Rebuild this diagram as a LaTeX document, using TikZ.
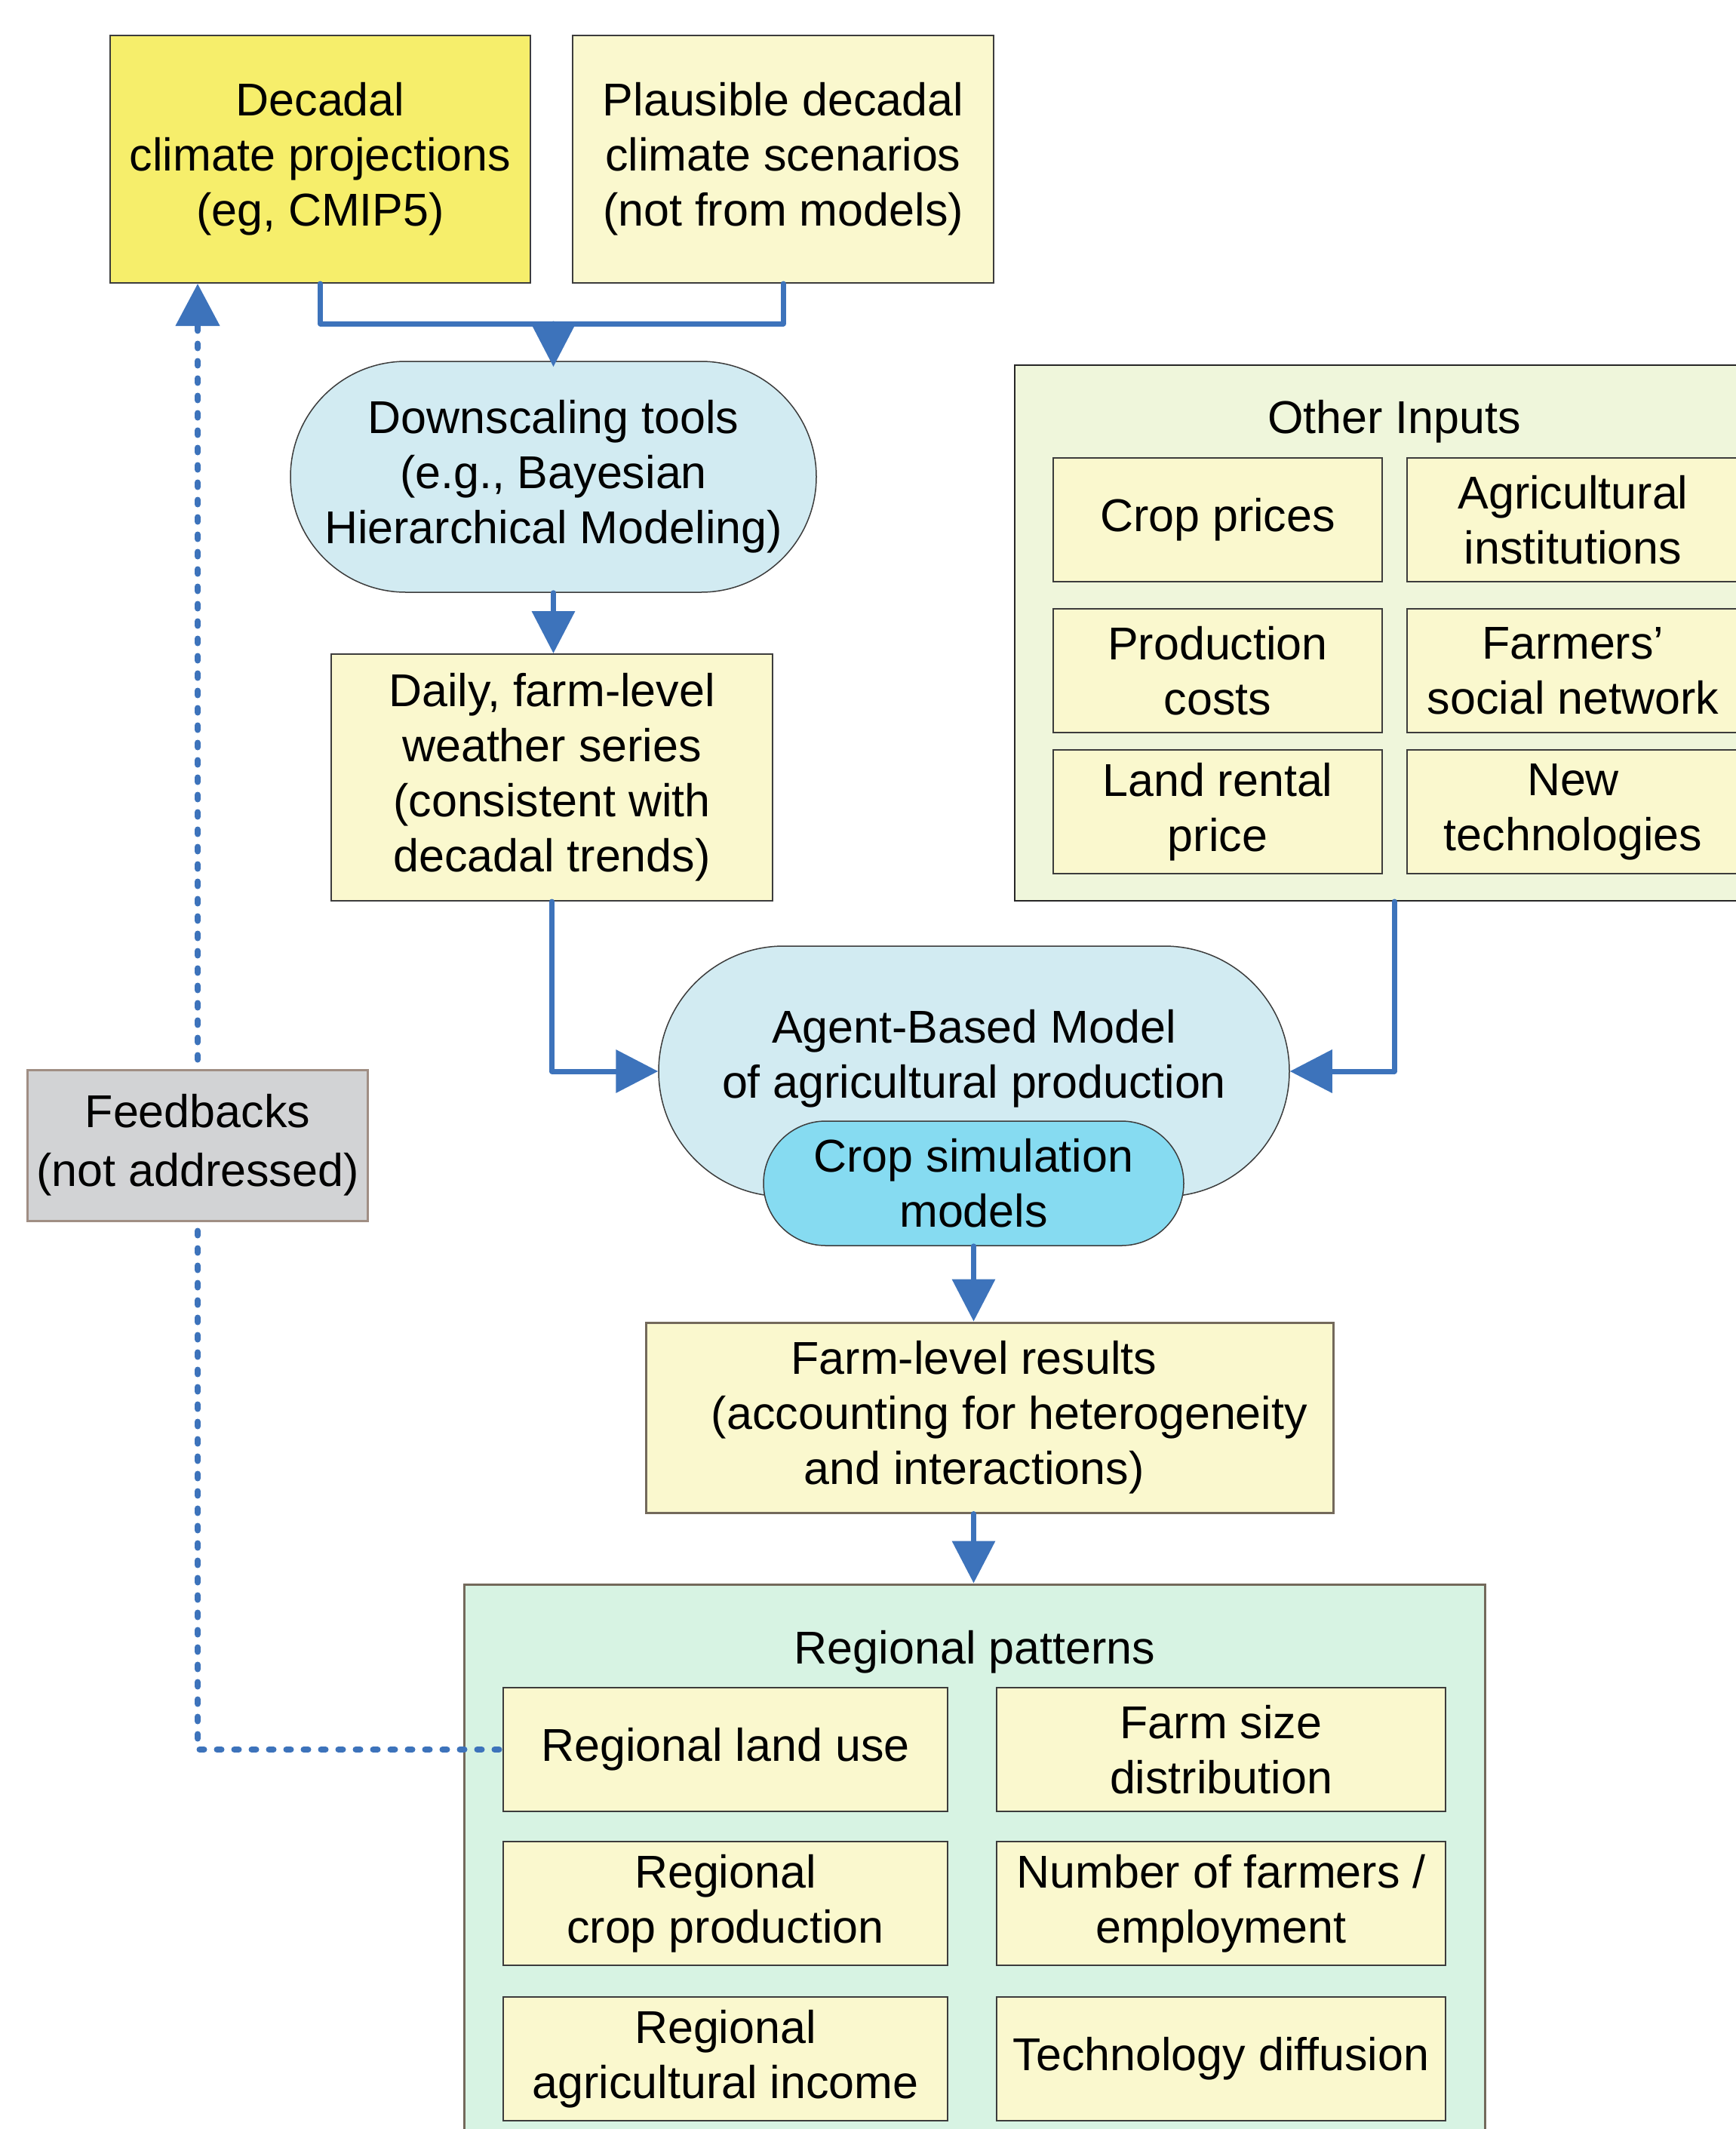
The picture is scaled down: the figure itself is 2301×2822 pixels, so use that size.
\documentclass[tikz,border=0pt]{standalone}
\usepackage{fontspec}
\setmainfont{Liberation Sans}
\usetikzlibrary{arrows.meta,calc}
\definecolor{decyel}{HTML}{F6EE6B}
\definecolor{lightyel}{HTML}{FAF8CE}
\definecolor{othergreen}{HTML}{EFF6DB}
\definecolor{regmint}{HTML}{D7F3E3}
\definecolor{paleblue}{HTML}{D2EBF2}
\definecolor{cropcyan}{HTML}{86DBF1}
\definecolor{fbgray}{HTML}{D2D3D5}
\definecolor{fbline}{HTML}{A08E84}
\definecolor{arrblue}{HTML}{3D73BB}
\definecolor{boxline}{HTML}{3C3C3C}
\definecolor{brownline}{HTML}{73695B}
\begin{document}
\begin{tikzpicture}[x=1pt,y=-1pt,
  font=\fontsize{61pt}{73pt}\selectfont,
  ybox/.style={rectangle, draw=boxline, line width=2pt, fill=lightyel, inner sep=0pt, align=center},
  rbox/.style={rectangle, draw=boxline, line width=1.5pt, fill=paleblue, inner sep=0pt, align=center},
  conn/.style={draw=arrblue, line width=7pt, line cap=round, line join=round},
  arr/.style={conn, -{Triangle[length=56pt,width=56pt]}},
  dots/.style={draw=arrblue, line width=8pt, line cap=round, dash pattern=on 6pt off 17pt},
  ttl/.style={inner sep=0pt, anchor=base}
]
\useasboundingbox (0,0) rectangle (2301,2822);
\clip (0,0) rectangle (2301,2822);

% top sources
\node[ybox, fill=decyel, minimum width=557pt, minimum height=328pt] (dec) at (424.5,211) {Decadal\\climate projections\\(eg, CMIP5)};
\node[ybox, minimum width=558pt, minimum height=328pt] (pla) at (1038,211) {Plausible decadal\\climate scenarios\\(not from models)};

% downscaling
\node[rbox, minimum width=697pt, minimum height=306pt, rounded corners=153pt] (down) at (733.5,632) {Downscaling tools\\(e.g., Bayesian\\Hierarchical Modeling)};

% daily weather
\node[ybox, minimum width=585pt, minimum height=327pt] (daily) at (731.5,1030.5) {Daily, farm-level\\weather series\\(consistent with\\decadal trends)};

% other inputs
\node[rectangle, draw=black!85, line width=2pt, fill=othergreen, minimum width=1006pt, minimum height=710pt, inner sep=0pt] (other) at (1848,839) {};
\node[ttl] (otitle) at (1848,574) {Other Inputs};
\node[ybox, minimum width=436pt, minimum height=164pt] (cp) at (1614,689) {Crop prices};
\node[ybox, minimum width=440pt, minimum height=164pt] (ai) at (2085,689) {Agricultural\\institutions};
\node[ybox, minimum width=436pt, minimum height=164pt] (pc) at (1614,889) {Production\\costs};
\node[ybox, minimum width=440pt, minimum height=164pt] (fsn) at (2085,889) {Farmers’\\social network};
\node[ybox, minimum width=436pt, minimum height=164pt] (lrp) at (1614,1076) {Land rental\\price};
\node[ybox, minimum width=440pt, minimum height=164pt] (nt) at (2085,1076) {New\\technologies};

% ABM
\node[rbox, minimum width=836pt, minimum height=332pt, rounded corners=166pt] (abm) at (1291,1420) {};
\node[inner sep=0pt, align=center] (abmt) at (1291,1403) {Agent-Based Model\\of agricultural production};
\node[rbox, fill=cropcyan, minimum width=557pt, minimum height=165pt, rounded corners=82.5pt] (crop) at (1290.5,1568.5) {Crop simulation\\models};

% farm-level results
\node[ybox, draw=brownline, line width=3pt, minimum width=911pt, minimum height=252pt] (farm) at (1311.5,1879) {Farm-level results\hspace*{41pt}\\\hspace*{53pt}(accounting for heterogeneity\\and interactions)\hspace*{41pt}};

% regional patterns
\node[rectangle, draw=brownline, line width=3pt, fill=regmint, minimum width=1353pt, minimum height=780pt, inner sep=0pt] (reg) at (1291.5,2490) {};
\node[ttl] (rtitle) at (1292,2205) {Regional patterns};
\node[ybox, minimum width=589pt, minimum height=164pt] (rlu) at (961.5,2319) {Regional land use};
\node[ybox, minimum width=595pt, minimum height=164pt] (fsd) at (1618.5,2319) {Farm size\\distribution};
\node[ybox, minimum width=589pt, minimum height=164pt] (rcp) at (961.5,2523) {Regional\\crop production};
\node[ybox, minimum width=595pt, minimum height=164pt] (nfe) at (1618.5,2523) {Number of farmers /\\employment};
\node[ybox, minimum width=589pt, minimum height=164pt] (rai) at (961.5,2729) {Regional\\agricultural income};
\node[ybox, minimum width=595pt, minimum height=164pt] (td) at (1618.5,2729) {Technology diffusion};

% feedbacks
\node[rectangle, draw=fbline, line width=3pt, fill=fbgray, minimum width=451pt, minimum height=200pt, align=center, inner sep=0pt, font=\fontsize{61pt}{78pt}\selectfont] (fb) at (262,1518) {Feedbacks\\(not addressed)};

% connectors
\coordinate (jn) at (733.5,429);
\draw[conn] (dec.south) |- (jn) -| (pla.south);
\draw[arr] (jn) -- ([yshift=-8pt]down.north);
\draw[arr] (down.south) -- (down.south |- daily.north);
\draw[arr] (daily.south) |- (abm.west);
\draw[arr] (other.south) |- (abm.east);
\draw[arr] (crop.south) -- (crop.south |- farm.north);
\draw[arr] (farm.south -| crop.south) -- (crop.south |- reg.north);
\draw[dots, -{Triangle[length=56pt,width=57pt]}, shorten <=12pt] (fb.north) -- (fb.north |- dec.south);
\draw[dots, shorten <=12pt] (fb.south) |- (rlu.west);
\end{tikzpicture}
\end{document}
